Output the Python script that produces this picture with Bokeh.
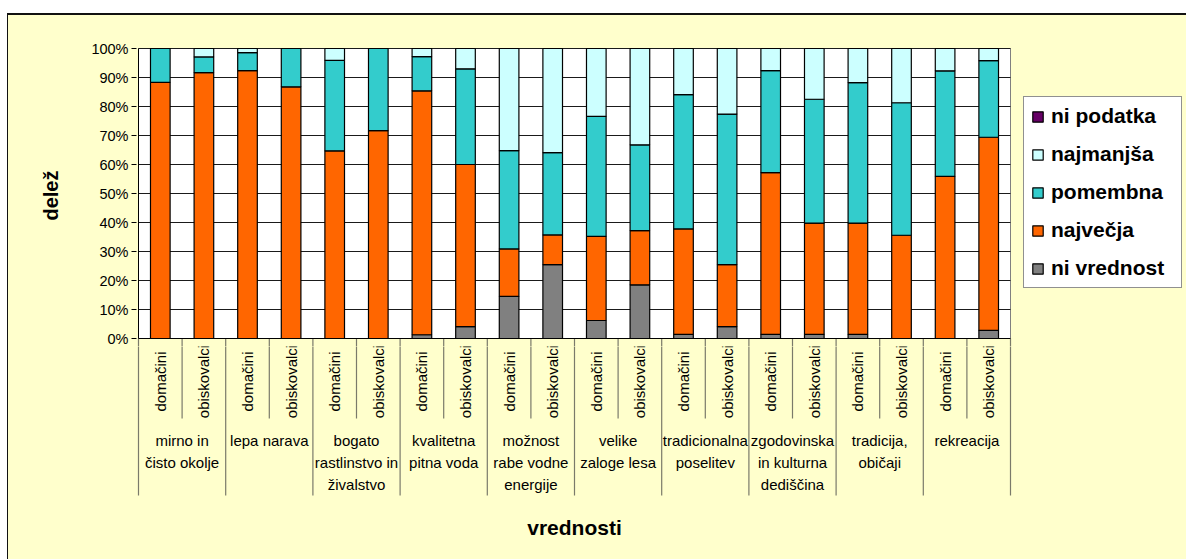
from bokeh.plotting import figure
from bokeh.models import (Range1d, FixedTicker, PrintfTickFormatter, ColumnDataSource,
                          Legend, LegendItem)
from bokeh.layouts import column
from bokeh.embed import file_html
from bokeh.resources import INLINE
from bokeh.core.properties import value
import math

# ---------------- data ----------------
groups = ["mirno in\nčisto okolje", "lepa narava", "bogato\nrastlinstvo in\nživalstvo",
          "kvalitetna\npitna voda", "možnost\nrabe vodne\nenergije", "velike\nzaloge lesa",
          "tradicionalna\nposelitev", "zgodovinska\nin kulturna\ndediščina",
          "tradicija,\nobičaji", "rekreacija"]
subgroups = ["domačini", "obiskovalci"]

series = ["ni vrednost", "največja", "pomembna", "najmanjša", "ni podatka"]
ni_vrednost = [0, 0, 0, 0, 0, 0, 1.3, 4.1, 14.5, 25.5, 6.2, 18.5, 1.4, 4.1, 1.4, 1.4, 1.4, 0, 0, 2.8]
najvecja = [88.3, 91.7, 92.4, 86.8, 64.7, 71.7, 84.1, 55.9, 16.4, 10.2, 29.0, 18.7, 36.4, 21.4,
            55.8, 38.4, 38.4, 35.6, 55.9, 66.6]
pomembna = [11.7, 5.4, 6.2, 13.2, 31.2, 28.3, 11.8, 33.0, 33.9, 28.4, 41.4, 29.6, 46.3, 51.9,
            35.2, 42.7, 48.4, 45.7, 36.4, 26.4]
najmanjsa = [0, 2.9, 1.4, 0, 4.1, 0, 2.8, 7.0, 35.2, 35.9, 23.4, 33.2, 15.9, 22.6, 7.6, 17.5,
             11.8, 18.7, 7.7, 4.2]
ni_podatka = [0] * 20
y_ticks = [0, 10, 20, 30, 40, 50, 60, 70, 80, 90, 100]

colors = ["#808080", "#FF6600", "#33CCCC", "#CCFFFF", "#660066"]
FONT = "Liberation Sans"
BG = "#FFFFCC"

# ---------------- layout constants ----------------
PXX = 43.6   # px per category
PXY = 2.9    # px per percent
SPLIT = 8    # px below the 0% line where the two figures meet
x_range = Range1d(-2 / PXX, (1186 - 138) / PXX)

n = len(groups) * len(subgroups)
xs = [i + 0.5 for i in range(n)]
sub_labels = [s for g in groups for s in subgroups]

src = ColumnDataSource(dict(x=xs, s0=ni_vrednost, s1=najvecja, s2=pomembna, s3=najmanjsa, s4=ni_podatka))

# ---------------- top figure: plot area ----------------
p = figure(width=1178, height=29 + 294 + SPLIT, x_range=x_range,
           y_range=Range1d(-SPLIT / PXY, 100 + 4 / PXY),
           output_backend="svg", toolbar_location=None, title=None,
           min_border_left=128, min_border_right=0, min_border_top=29, min_border_bottom=0,
           border_fill_color=BG, background_fill_color=BG,
           outline_line_color=None, x_axis_type=None)
p.xgrid.visible = False
p.ygrid.visible = False

ya = p.yaxis[0]
ya.ticker = FixedTicker(ticks=y_ticks)
ya.formatter = PrintfTickFormatter(format="%d%%")
ya.axis_line_color = None
ya.major_tick_in = 0
ya.major_tick_out = 5
ya.major_tick_line_color = "black"
ya.minor_tick_line_color = None
ya.major_label_text_font = FONT
ya.major_label_text_font_size = "14.5px"
ya.major_label_text_color = "black"
ya.major_label_standoff = 3
ya.axis_label = "delež"
ya.axis_label_text_font = FONT
ya.axis_label_text_font_style = "bold"
ya.axis_label_text_font_size = "20px"
ya.axis_label_text_color = "black"
ya.axis_label_standoff = 26

p.quad(left=[0], right=[n], bottom=[0], top=[100], fill_color="white", line_color="#808080", line_width=1)
grid_y = [t for t in y_ticks if t > 0]
p.segment(x0=[0] * len(grid_y), x1=[n] * len(grid_y), y0=grid_y, y1=grid_y, line_color="#1a1a1a", line_width=1)

stack = ["s0", "s1", "s2", "s3", "s4"]
rs = p.vbar_stack(stack, x="x", width=0.45, source=src, fill_color=colors,
                  line_color="black", line_width=1.2)

items = [LegendItem(label=series[i], renderers=[rs[i]]) for i in range(len(series))][::-1]
legend = Legend(items=items, location=(887, 50 + SPLIT), orientation="vertical",
                border_line_color="#222222", border_line_width=1,
                background_fill_color="white", background_fill_alpha=1,
                label_text_font=FONT, label_text_font_style="bold", label_text_font_size="21px",
                label_text_color="black", glyph_width=13, glyph_height=13, label_height=20,
                label_width=123, label_standoff=7, spacing=14, padding=7, margin=0)
p.add_layout(legend)

# ---------------- bottom figure: category axis ----------------
q = figure(width=1178, height=221 - SPLIT, x_range=x_range, y_range=Range1d(-221 / PXY, -SPLIT / PXY),
           output_backend="svg", toolbar_location=None, title=None,
           min_border_left=128, min_border_right=0, min_border_top=0, min_border_bottom=0,
           border_fill_color=BG, background_fill_color=BG,
           outline_line_color=None, x_axis_type=None, y_axis_type=None)
q.xgrid.visible = False
q.ygrid.visible = False

inner_sep = [2 * g + 1 for g in range(len(groups))]
group_sep = [2 * g for g in range(len(groups) + 1)]
for f in (p, q):
    f.segment(x0=inner_sep, x1=inner_sep, y0=[0] * len(inner_sep), y1=[-80 / PXY] * len(inner_sep),
              line_color="#7a7a6a", line_width=1.2)
    f.segment(x0=group_sep, x1=group_sep, y0=[0] * len(group_sep), y1=[-157 / PXY] * len(group_sep),
              line_color="#7a7a6a", line_width=1.2)

# axis lines (left and bottom of the plot area)
p.segment(x0=[0, 0], x1=[0, n], y0=[0, 0], y1=[100, 0], line_color="black", line_width=1)

q.text(x=xs, y=[-43 / PXY] * n, text=sub_labels, angle=math.pi / 2, text_align="center",
       text_baseline="middle", text_font=value(FONT), text_font_size="15px", text_color="black")

gx, gy, gt = [], [], []
for gi, g in enumerate(groups):
    for li, line in enumerate(g.split("\n")):
        gx.append(2 * gi + 1)
        gy.append(-(102 + 22 * li) / PXY)
        gt.append(line)
q.text(x=gx, y=gy, text=gt, text_align="center", text_baseline="middle",
       text_font=value(FONT), text_font_size="15px", text_color="black")

q.text(x=[n / 2], y=[-188.7 / PXY], text=["vrednosti"], text_align="center",
       text_baseline="alphabetic", text_font=value(FONT), text_font_size="21px",
       text_font_style="bold", text_color="black")

layout = column(p, q, spacing=0, margin=(13, 0, 0, 7),
                styles={"border-top": "2px solid #111111", "border-left": "1px solid #111111",
                        "background-color": BG})

open("out.html", "w").write(file_html(layout, INLINE, title="delež"))
